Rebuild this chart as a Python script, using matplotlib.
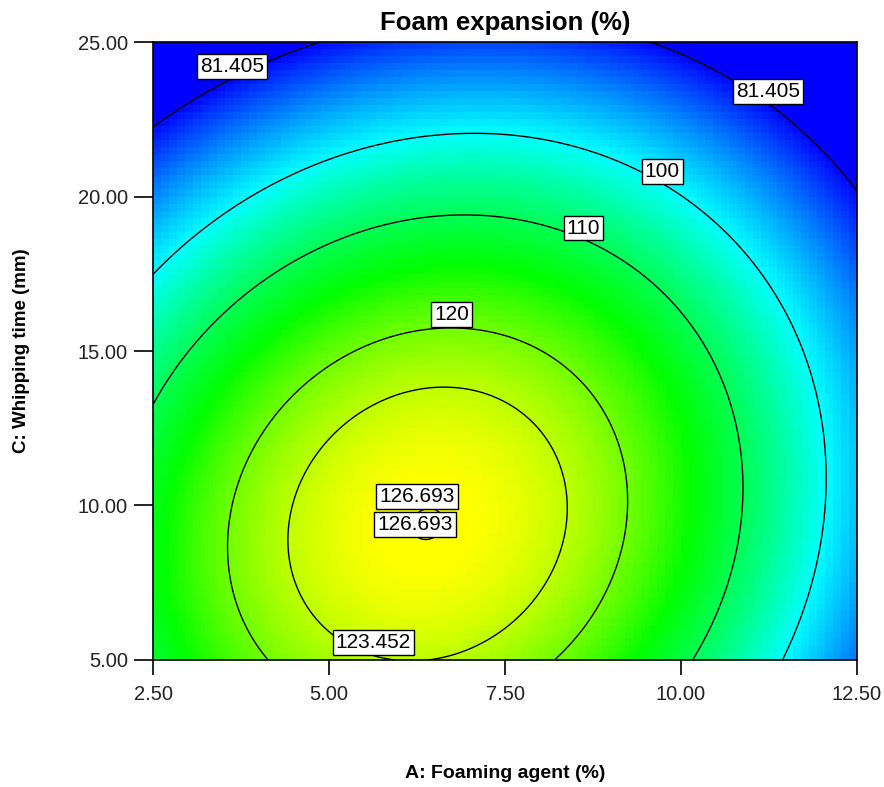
import numpy as np
import matplotlib
matplotlib.use('Agg')
import matplotlib.pyplot as plt
from matplotlib.colors import LinearSegmentedColormap

plt.rcParams['font.family'] = ['Liberation Sans', 'DejaVu Sans']

# points: A = foaming agent (%), C = whipping time
trace_A = [2.50, 3.59, 4.90, 9.54, 11.22, 12.49,
           2.50, 3.21, 5.16, 6.86, 7.43, 9.42, 10.55, 11.22, 11.88, 12.02, 12.05, 11.88, 11.39,
           2.50, 3.26, 4.07, 5.87, 6.86, 7.43, 8.28, 9.56, 10.22, 10.74, 10.87, 10.79, 10.10,
           3.69, 3.54, 4.11, 4.68, 6.43, 7.14, 9.20, 9.04, 8.11,
           6.58, 7.14, 5.16, 4.59, 4.40, 8.32, 8.38, 7.14, 6.14]
trace_C = [22.29, 23.77, 25.00, 25.00, 23.07, 20.27,
           17.62, 18.92, 21.34, 22.02, 21.96, 20.80, 18.98, 17.30, 14.06, 11.69, 10.61, 7.91, 5.00,
           13.52, 15.68, 17.30, 19.02, 19.40, 19.29, 18.95, 17.30, 15.68, 12.98, 10.83, 8.45, 5.00,
           10.83, 8.45, 5.00, 14.60, 15.71, 15.68, 11.00, 7.91, 5.00,
           13.84, 13.68, 13.20, 10.83, 9.10, 10.83, 10.08, 5.65, 5.00]
trace_level = [81.405] * 6 + [100] * 13 + [110] * 13 + [120] * 9 + [123.452] * 9

# optimum of the response
peak_A, peak_C, peak_val = 6.40, 9.40, 126.735

levels = [81.405, 100, 110, 120, 123.452, 126.693]
label_A = [3.62, 11.23, 9.73, 8.61, 6.74, 5.63, 6.25, 6.22]
label_C = [24.20, 23.41, 20.80, 18.98, 16.17, 5.57, 10.28, 9.39]

a_ticks = [2.5, 5.0, 7.5, 10.0, 12.5]
c_ticks = [5.0, 10.0, 15.0, 20.0, 25.0]

color_levels = [81.0, 100.0, 115.0, 126.5]
color_list = ['#0000ff', '#00ffff', '#00ff00', '#ffff00']

# quadratic response surface around the optimum, curvature fitted to the contour readings
tA = np.array(trace_A) - peak_A
tC = np.array(trace_C) - peak_C
X = np.column_stack([tA**2, tC**2, tA * tC])
coef, *_ = np.linalg.lstsq(X, peak_val - np.array(trace_level), rcond=None)


def response(a, c):
    da = a - peak_A
    dc = c - peak_C
    return peak_val - (coef[0] * da**2 + coef[1] * dc**2 + coef[2] * da * dc)


vmin, vmax = color_levels[0], color_levels[-1]
nodes = [(v - vmin) / (vmax - vmin) for v in color_levels]
cmap = LinearSegmentedColormap.from_list('de', list(zip(nodes, color_list)))

fig = plt.figure(figsize=(8.84, 7.87), dpi=100)
ax = fig.add_axes([0.1731, 0.1614, 0.7964, 0.7852])

# blocky shaded field
a_edges = np.linspace(2.5, 12.5, 89)
c_edges = np.linspace(5, 25, 89)
a_mid = (a_edges[:-1] + a_edges[1:]) / 2
c_mid = (c_edges[:-1] + c_edges[1:]) / 2
AA, CC = np.meshgrid(a_mid, c_mid)
ax.pcolormesh(a_edges, c_edges, response(AA, CC), cmap=cmap, vmin=vmin, vmax=vmax,
              shading='flat')

# contour lines on a fine grid
af = np.linspace(2.5, 12.5, 600)
cf = np.linspace(5, 25, 600)
AF, CF = np.meshgrid(af, cf)
cs = ax.contour(AF, CF, response(AF, CF), levels=levels, colors='black', linewidths=1.0)
labels = ax.clabel(cs, fmt=lambda v: f'{v:g}', fontsize=15, inline=False,
                   manual=list(zip(label_A, label_C)))
for t, xa, yc in zip(labels, label_A, label_C):
    t.set_position((xa, yc))
    t.set_rotation(0)
    t.set_zorder(5)
    t.set_bbox(dict(boxstyle='square,pad=0.14', facecolor='white', edgecolor='black',
                    linewidth=1.0))

ax.set_xlim(2.5, 12.5)
ax.set_ylim(5, 25)
ax.set_xticks(a_ticks)
ax.set_xticklabels([f'{v:.2f}' for v in a_ticks])
ax.set_yticks(c_ticks)
ax.set_yticklabels([f'{v:.2f}' for v in c_ticks])
ax.tick_params(axis='x', direction='out', length=11, width=1.2, labelsize=14.5, pad=7,
               labelcolor='#222222')
ax.tick_params(axis='y', direction='out', length=14, width=1.2, labelsize=14.5, pad=4,
               labelcolor='#222222')
for sp in ax.spines.values():
    sp.set_linewidth(1.2)

ax.set_title('Foam expansion (%)', fontsize=18.5, fontweight='bold', pad=9)
ax.set_xlabel('A: Foaming agent (%)', fontsize=14, fontweight='bold')
ax.set_ylabel('C: Whipping time (mm)', fontsize=13.5, fontweight='bold')
ax.xaxis.set_label_coords(0.5, -0.17)
ax.yaxis.set_label_coords(-0.175, 0.5)

fig.savefig('out.png', dpi=100)
